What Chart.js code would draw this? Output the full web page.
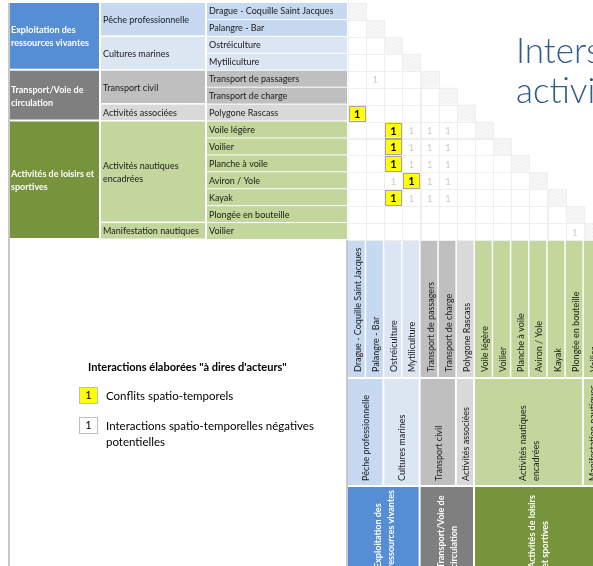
<!DOCTYPE html>
<html>
<head>
<meta charset="utf-8">
<script src="https://cdn.jsdelivr.net/npm/chart.js@4.4.0/dist/chart.umd.min.js"></script>
<style>
  html, body { margin: 0; padding: 0; background: #fff; }
  #wrap { position: relative; width: 593px; height: 566px; }
</style>
</head>
<body>
<div id="wrap"><canvas id="matrix-chart"></canvas></div>
<script>
const matrixCanvas = document.querySelector("#matrix-chart");

/* ============================================= */
/*                  Data                         */
/* ============================================= */
const activities = [
  "Drague - Coquille Saint Jacques",
  "Palangre - Bar",
  "Ostréiculture",
  "Mytiliculture",
  "Transport de passagers",
  "Transport de charge",
  "Polygone Rascass",
  "Voile légère",
  "Voilier",
  "Planche à voile",
  "Aviron / Yole",
  "Kayak",
  "Plongée en bouteille",
  "Voilier"
];
const subGroupLabels = [
  ["Pêche professionnelle"],
  ["Cultures marines"],
  ["Transport civil"],
  ["Activités associées"],
  ["Activités nautiques", "encadrées"],
  ["Manifestation nautiques"]
];
const subGroupSizes = [2, 2, 2, 1, 6, 1];
const groupRowLabels = [
  ["Exploitation des", "ressources vivantes"],
  ["Transport/Voie de", "circulation"],
  ["Activités de loisirs et", "sportives"]
];
const groupColLabels = [
  ["Exploitation des", "ressources vivantes"],
  ["Transport/Voie de", "circulation"],
  ["Activités de loisirs", "et sportives"]
];
const groupSizes = [4, 3, 7];
// [row, column, value]
const conflictCells = [
  [6, 0, 1], [7, 2, 1], [8, 2, 1], [9, 2, 1], [10, 3, 1], [11, 2, 1]
];
const potentialCells = [
  [4, 1, 1],
  [7, 3, 1], [7, 4, 1], [7, 5, 1],
  [8, 3, 1], [8, 4, 1], [8, 5, 1],
  [9, 3, 1], [9, 4, 1], [9, 5, 1],
  [10, 2, 1], [10, 4, 1], [10, 5, 1],
  [11, 3, 1], [11, 4, 1], [11, 5, 1],
  [13, 12, 1]
];
const legendTitle = "Interactions élaborées \"à dires d'acteurs\"";
const legendItems = [
  ["Conflits spatio-temporels"],
  ["Interactions spatio-temporelles négatives", "potentielles"]
];
const titleLines = ["Intersections entre", "activités"];

/* ============================================= */
/*                  Styles                       */
/* ============================================= */
const groupColors = ["#558ED5", "#7F7F7F", "#77933C"];
const subGroupColors = ["#C6D9F1", "#DCE6F2", "#BFBFBF", "#D9D9D9", "#C3D69B", "#C3D69B"];
const FONT = "Lato, 'Open Sans', sans-serif";

function subGroupOf(i) {
  let acc = 0;
  for (let k = 0; k < subGroupSizes.length; k++) {
    acc += subGroupSizes[k];
    if (i < acc) return k;
  }
  return subGroupSizes.length - 1;
}

function makeHatch() {
  const c = document.createElement("canvas");
  c.width = 4; c.height = 4;
  const g = c.getContext("2d");
  g.fillStyle = "#F7F7F7";
  g.fillRect(0, 0, 4, 4);
  g.fillStyle = "#EDEDED";
  g.fillRect(0, 0, 1, 1); g.fillRect(2, 2, 1, 1);
  g.fillRect(1, 3, 1, 1); g.fillRect(3, 1, 1, 1);
  return c;
}
const hatchCanvas = makeHatch();

/* ============================================= */
/*                  Table plugin                 */
/* ============================================= */
const tablePlugin = {
  id: "matrixTable",
  beforeDatasetsDraw(chart) {
    const ctx = chart.ctx;
    const xs = chart.scales.x;
    const ys = chart.scales.y;
    const area = chart.chartArea;
    const n = activities.length;
    const hatch = ctx.createPattern(hatchCanvas, "repeat");

    ctx.save();
    // frame lines
    ctx.fillStyle = "#C8C8C8";
    ctx.fillRect(8, area.top, 2, 566 - area.top);
    ctx.fillRect(346, area.bottom, 2, 566 - area.bottom);

    // matrix grid: lower triangle + diagonal
    for (let i = 0; i < n; i++) {
      for (let j = 0; j <= i; j++) {
        const x0 = xs.getPixelForValue(j), x1 = xs.getPixelForValue(j + 1);
        const y0 = ys.getPixelForValue(i), y1 = ys.getPixelForValue(i + 1);
        if (i === j) {
          ctx.fillStyle = hatch;
          ctx.fillRect(x0, y0, x1 - x0, y1 - y0);
        }
        ctx.strokeStyle = "#EFEFEF";
        ctx.lineWidth = 1;
        ctx.strokeRect(Math.round(x0) + 0.5, Math.round(y0) + 0.5, Math.round(x1 - x0), Math.round(y1 - y0));
      }
    }

    // ---- row headers (left) ----
    const L1 = [10, 99], L2 = [101, 205], L3 = [207, 347];
    ctx.textBaseline = "middle";
    ctx.textAlign = "left";
    for (let i = 0; i < n; i++) {
      const y0 = ys.getPixelForValue(i), y1 = ys.getPixelForValue(i + 1);
      ctx.fillStyle = subGroupColors[subGroupOf(i)];
      ctx.fillRect(L3[0], y0, L3[1] - L3[0], y1 - y0 - 1);
      ctx.fillStyle = "#1A1A1A";
      ctx.font = "9px " + FONT;
      ctx.fillText(activities[i], L3[0] + 2, (y0 + y1) / 2);
    }
    let start = 0;
    subGroupSizes.forEach((size, k) => {
      const y0 = ys.getPixelForValue(start), y1 = ys.getPixelForValue(start + size);
      ctx.fillStyle = subGroupColors[k];
      ctx.fillRect(L2[0], y0, L2[1] - L2[0], y1 - y0 - 1.5);
      ctx.fillStyle = "#1A1A1A";
      ctx.font = "9px " + FONT;
      const lines = subGroupLabels[k];
      const mid = (y0 + y1) / 2 - (lines.length - 1) * 6.5;
      lines.forEach((t, m) => ctx.fillText(t, L2[0] + 2, mid + m * 13));
      start += size;
    });
    start = 0;
    groupSizes.forEach((size, k) => {
      const y0 = ys.getPixelForValue(start), y1 = ys.getPixelForValue(start + size);
      ctx.fillStyle = groupColors[k];
      ctx.fillRect(L1[0], y0, L1[1] - L1[0], y1 - y0 - 2);
      ctx.fillStyle = "#FFFFFF";
      ctx.font = "bold 9px " + FONT;
      const lines = groupRowLabels[k];
      const mid = (y0 + y1) / 2 - (lines.length - 1) * 6.5;
      lines.forEach((t, m) => ctx.fillText(t, L1[0] + 1, mid + m * 13));
      start += size;
    });

    // ---- column headers (bottom) ----
    const C3 = [area.bottom + 1, 377], C2 = [379, 485], C1 = [487, 600];
    const rotText = (t, x, y) => {
      ctx.save();
      ctx.translate(x, y);
      ctx.rotate(-Math.PI / 2);
      ctx.fillText(t, 0, 0);
      ctx.restore();
    };
    for (let j = 0; j < n; j++) {
      const x0 = xs.getPixelForValue(j), x1 = xs.getPixelForValue(j + 1);
      ctx.fillStyle = subGroupColors[subGroupOf(j)];
      ctx.fillRect(x0, C3[0], x1 - x0 - 1.5, C3[1] - C3[0]);
      ctx.fillStyle = "#1A1A1A";
      ctx.font = "9px " + FONT;
      rotText(activities[j], (x0 + x1) / 2 + 1, C3[1] - 5);
    }
    start = 0;
    subGroupSizes.forEach((size, k) => {
      const x0 = xs.getPixelForValue(start), x1 = xs.getPixelForValue(start + size);
      ctx.fillStyle = subGroupColors[k];
      ctx.fillRect(x0, C2[0], x1 - x0 - 2, C2[1] - C2[0]);
      ctx.fillStyle = "#1A1A1A";
      ctx.font = "9px " + FONT;
      const lines = subGroupLabels[k];
      const mid = (x0 + x1) / 2 - (lines.length - 1) * 6.5;
      lines.forEach((t, m) => rotText(t, mid + m * 13, C2[1] - 4));
      start += size;
    });
    start = 0;
    groupSizes.forEach((size, k) => {
      const x0 = xs.getPixelForValue(start), x1 = xs.getPixelForValue(start + size);
      ctx.fillStyle = groupColors[k];
      ctx.fillRect(x0, C1[0], x1 - x0 - 2, C1[1] - C1[0]);
      ctx.fillStyle = "#FFFFFF";
      ctx.font = "bold 9px " + FONT;
      const lines = groupColLabels[k];
      const mid = (x0 + x1) / 2 - (lines.length - 1) * 6.5;
      lines.forEach((t, m) => rotText(t, mid + m * 13, 568));
      start += size;
    });

    // ---- title ----
    ctx.fillStyle = "#2F5B8F";
    ctx.font = "300 35px " + FONT;
    ctx.textBaseline = "alphabetic";
    ctx.fillText(titleLines[0], 516, 63);
    ctx.fillText(titleLines[1], 516, 103);

    // ---- legend ----
    ctx.fillStyle = "#000000";
    ctx.font = "bold 11px " + FONT;
    ctx.textBaseline = "middle";
    ctx.fillText(legendTitle, 88, 367);
    const boxFill = ["#FFFF00", "#FFFFFF"];
    const boxY = [387, 417];
    legendItems.forEach((lines, k) => {
      ctx.fillStyle = boxFill[k];
      ctx.fillRect(79, boxY[k], 18, 16);
      ctx.strokeStyle = "#BFBFBF";
      ctx.lineWidth = 1;
      ctx.strokeRect(79.5, boxY[k] + 0.5, 18, 16);
      ctx.fillStyle = "#000000";
      ctx.font = "11px " + FONT;
      ctx.textAlign = "center";
      ctx.fillText("1", 88.5, boxY[k] + 8.5);
      ctx.textAlign = "left";
      ctx.font = "11.5px " + FONT;
      lines.forEach((t, m) => ctx.fillText(t, 106, boxY[k] + 9 + m * 16));
    });
    ctx.restore();
  },
  afterDatasetsDraw(chart) {
    const ctx = chart.ctx;
    const xs = chart.scales.x;
    const ys = chart.scales.y;
    const w = xs.getPixelForValue(1) - xs.getPixelForValue(0);
    const h = ys.getPixelForValue(1) - ys.getPixelForValue(0);
    ctx.save();
    ctx.textAlign = "center";
    ctx.textBaseline = "middle";
    chart.getDatasetMeta(0).data.forEach((el, k) => {
      ctx.fillStyle = "#FFFF00";
      ctx.fillRect(el.x - w / 2 + 1, el.y - h / 2 + 1, w - 2, h - 2);
      ctx.strokeStyle = "#A6A6A6";
      ctx.lineWidth = 1;
      ctx.strokeRect(Math.round(el.x - w / 2) + 1.5, Math.round(el.y - h / 2) + 1.5, Math.round(w) - 2, Math.round(h) - 2);
      ctx.fillStyle = "#000000";
      ctx.font = "bold 11px " + FONT;
      ctx.fillText(String(conflictCells[k][2]), el.x, el.y + 1);
    });
    chart.getDatasetMeta(1).data.forEach((el, k) => {
      ctx.fillStyle = "#CDCDCD";
      ctx.font = "10px " + FONT;
      ctx.fillText(String(potentialCells[k][2]), el.x, el.y + 1);
    });
    ctx.restore();
  }
};

/* ============================================= */
/*                  Chart                        */
/* ============================================= */
const matrixChart = new Chart(matrixCanvas, {
  type: "scatter",
  data: {
    datasets: [
      {
        label: legendItems[0][0],
        data: conflictCells.map((c) => ({ x: c[1] + 0.5, y: c[0] + 0.5 })),
        pointRadius: 0,
      },
      {
        label: legendItems[1][0],
        data: potentialCells.map((c) => ({ x: c[1] + 0.5, y: c[0] + 0.5 })),
        pointRadius: 0,
      }
    ]
  },
  options: {
    responsive: true,
    maintainAspectRatio: false,
    animation: false,
    events: [],
    layout: {
      padding: { left: 348, top: 3, right: 0, bottom: 326 }
    },
    scales: {
      x: { type: "linear", min: 0, max: 13.5, display: false },
      y: { type: "linear", min: 0, max: 14, reverse: true, display: false }
    },
    plugins: {
      legend: { display: false },
      tooltip: { enabled: false }
    }
  },
  plugins: [tablePlugin]
});
</script>
</body>
</html>
